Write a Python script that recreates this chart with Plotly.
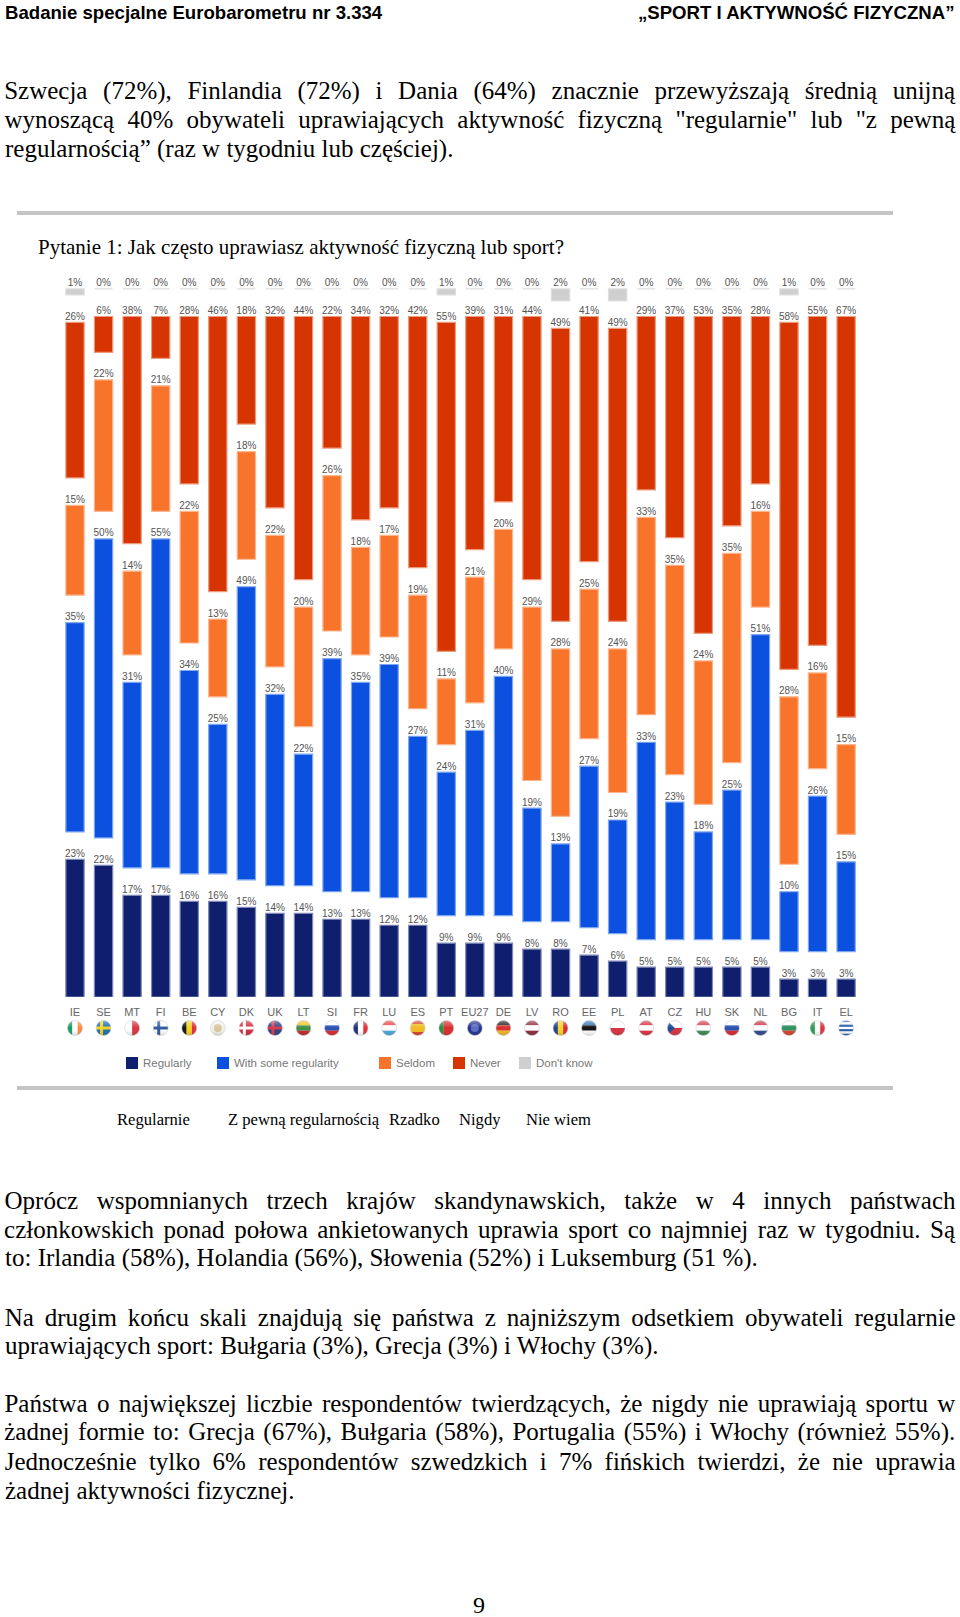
import base64
import json
import plotly.graph_objects as go

countries = ["IE","SE","MT","FI","BE","CY","DK","UK","LT","SI","FR","LU","ES","PT","EU27","DE","LV","RO","EE","PL","AT","CZ","HU","SK","NL","BG","IT","EL"]
regularly = [23,22,17,17,16,16,15,14,14,13,13,12,12,9,9,9,8,8,7,6,5,5,5,5,5,3,3,3]
some_regularity = [35,50,31,55,34,25,49,32,22,39,35,39,27,24,31,40,19,13,27,19,33,23,18,25,51,10,26,15]
seldom = [15,22,14,21,22,13,18,22,20,26,18,17,19,11,21,20,29,28,25,24,33,35,24,35,16,28,16,15]
never = [26,6,38,7,28,46,18,32,44,22,34,32,42,55,39,31,44,49,41,49,29,37,53,35,28,58,55,67]
dont_know = [1,0,0,0,0,0,0,0,0,0,0,0,0,1,0,0,0,2,0,2,0,0,0,0,0,1,0,0]

series_names = ["Regularly", "With some regularity", "Seldom", "Never", "Don't know"]
series_values = [regularly, some_regularity, seldom, never, dont_know]
fill_colors = ["#0f1f6e", "#0b50de", "#f7742a", "#d63400", "#cfcfcf"]
edge_colors = ["#7f88b8", "#80a8f0", "#fbb58f", "#ec9a7c", "#dedede"]
legend_x = [126, 217, 379, 453, 519]

header_left = "Badanie specjalne Eurobarometru nr 3.334"
header_right = "„SPORT I AKTYWNOŚĆ FIZYCZNA”"
question = "Pytanie 1: Jak często uprawiasz aktywność fizyczną lub sport?"
polish_legend = [("Regularnie", 115), ("Z pewną regularnością", 226), ("Rzadko", 387), ("Nigdy", 457), ("Nie wiem", 524)]
justified_lines = [
    ("Szwecja (72%), Finlandia (72%) i Dania (64%) znacznie przewyższają średnią unijną", 91),
    ("wynoszącą 40% obywateli uprawiających aktywność fizyczną \"regularnie\" lub \"z pewną", 120),
    ("Oprócz wspomnianych trzech krajów skandynawskich, także w 4 innych państwach", 1200),
    ("członkowskich ponad połowa ankietowanych uprawia sport co najmniej raz w tygodniu. Są", 1229),
    ("Na drugim końcu skali znajdują się państwa z najniższym odsetkiem obywateli regularnie", 1317),
    ("Państwa o największej liczbie respondentów twierdzących, że nigdy nie uprawiają sportu w", 1403),
    ("żadnej formie to: Grecja (67%), Bułgaria (58%), Portugalia (55%) i Włochy (również 55%).", 1432),
    ("Jednocześnie tylko 6% respondentów szwedzkich i 7% fińskich twierdzi, że nie uprawia", 1461),
]
plain_lines = [
    ("regularnością” (raz w tygodniu lub częściej).", 149),
    ("to: Irlandia (58%), Holandia (56%), Słowenia (52%) i Luksemburg (51 %).", 1258),
    ("uprawiających sport: Bułgaria (3%), Grecja (3%) i Włochy (3%).", 1346),
    ("żadnej aktywności fizycznej.", 1490),
]
page_number = "9"

# stripe colours per flag: (direction, colours, overlay)
flags = {
    "IE": ("v", ["#169b62", "#ffffff", "#ff883e"], None), "SE": ("h", ["#1a6fb5"], ("cross", "#f6d21f")),
    "MT": ("v", ["#ffffff", "#d8343f"], None), "FI": ("h", ["#ffffff"], ("cross", "#2f5a9e")),
    "BE": ("v", ["#111111", "#f5d320", "#e0303a"], None), "CY": ("h", ["#f1f1ec"], ("dot", "#d9c6a0")),
    "DK": ("h", ["#cf2a3c"], ("cross", "#ffffff")), "UK": ("h", ["#2b3f80"], ("cross", "#d8394a")),
    "LT": ("h", ["#f3c21e", "#3f8f45", "#c1272d"], None), "SI": ("h", ["#ffffff", "#2a4fb0", "#d9282f"], None),
    "FR": ("v", ["#1d2f80", "#ffffff", "#e0303a"], None), "LU": ("h", ["#e8444a", "#ffffff", "#4aa8dc"], None),
    "ES": ("h", ["#d8432a", "#f2bb22", "#f2bb22", "#d8432a"], None), "PT": ("v", ["#2d8a3f", "#d92c2c", "#d92c2c"], None),
    "EU27": ("h", ["#23308f"], ("dot", "#5a6ac0")), "DE": ("h", ["#222222", "#d9302c", "#f2b824"], None),
    "LV": ("h", ["#8e2c3c", "#ffffff", "#8e2c3c"], None), "RO": ("v", ["#1f3f8f", "#f5d320", "#d9282f"], None),
    "EE": ("h", ["#2f78bd", "#111111", "#ffffff"], None), "PL": ("h", ["#ffffff", "#d8303f"], None),
    "AT": ("h", ["#d8303f", "#ffffff", "#d8303f"], None), "CZ": ("h", ["#ffffff", "#d8303f"], ("wedge", "#1f4a94")),
    "HU": ("h", ["#d8384a", "#ffffff", "#3f8a50"], None), "SK": ("h", ["#ffffff", "#2a4fb0", "#d9282f"], None),
    "NL": ("h", ["#c5343f", "#ffffff", "#2a4a90"], None), "BG": ("h", ["#ffffff", "#2f9060", "#d8402c"], None),
    "IT": ("v", ["#2d9a50", "#ffffff", "#d8343f"], None),
    "EL": ("h", ["#1f5aa8", "#ffffff", "#1f5aa8", "#ffffff", "#1f5aa8", "#ffffff", "#1f5aa8"], None),
}

W, H = 960, 1617
PLOT_L, PLOT_R, PLOT_T, PLOT_B = 50, 870, 270, 997
PX_PER_PCT, PX_PER_CAT, FIRST_BAR_X = 5.98, 28.56, 75
GAP = 4.6  # blank space between the segments of a column, in percentage points


def px(x):
    return x / W


def py(y):
    return 1 - y / H


def flag_uri(code):
    direction, colours, overlay = flags[code]
    parts = []
    n = len(colours)
    for i, c in enumerate(colours):
        if direction == "h":
            parts.append(f'<rect x="0" y="{i*32/n}" width="32" height="{32/n+0.2}" fill="{c}"/>')
        else:
            parts.append(f'<rect x="{i*32/n}" y="0" width="{32/n+0.2}" height="32" fill="{c}"/>')
    if overlay:
        kind, c = overlay
        if kind == "cross":
            parts.append(f'<rect x="9" y="0" width="6" height="32" fill="{c}"/><rect x="0" y="13" width="32" height="6" fill="{c}"/>')
        elif kind == "dot":
            parts.append(f'<circle cx="16" cy="16" r="8" fill="{c}"/>')
        elif kind == "wedge":
            parts.append(f'<path d="M0 0L16 16L0 32Z" fill="{c}"/>')
    svg = ('<svg xmlns="http://www.w3.org/2000/svg" width="32" height="32" viewBox="0 0 32 32">'
           '<defs><clipPath id="c"><circle cx="16" cy="16" r="15"/></clipPath>'
           '<linearGradient id="g" x1="0" y1="0" x2="0" y2="1"><stop offset="0" stop-color="#fff" stop-opacity=".45"/>'
           '<stop offset=".5" stop-color="#fff" stop-opacity="0"/><stop offset="1" stop-color="#000" stop-opacity=".18"/></linearGradient>'
           '<filter id="b"><feGaussianBlur stdDeviation="1"/></filter></defs>'
           '<g clip-path="url(#c)" filter="url(#b)">' + "".join(parts) +
           '<rect width="32" height="32" fill="url(#g)"/></g>'
           '<circle cx="16" cy="16" r="15" fill="none" stroke="#d0d0d0" stroke-width="1.2"/></svg>')
    return "data:image/svg+xml;base64," + base64.b64encode(svg.encode()).decode()


fig = go.Figure()
x = list(range(len(countries)))
running = [0.0] * len(countries)
for k, (name, vals) in enumerate(zip(series_names, series_values)):
    fig.add_trace(go.Bar(
        x=x, y=vals, base=running, name=name, width=0.64,
        marker=dict(color=fill_colors[k], line=dict(color=edge_colors[k], width=1.2)),
        showlegend=False, hovertemplate="%{customdata}: %{y}%<extra>" + name + "</extra>", customdata=countries,
    ))
    tops = [b + v for b, v in zip(running, vals)]
    fig.add_trace(go.Scatter(
        x=x, y=tops, mode="text", text=[f"{v}%" for v in vals], textposition="top center",
        textfont=dict(family="Liberation Sans", size=10, color="#555555"),
        showlegend=False, hoverinfo="skip", cliponaxis=False,
    ))
    running = [t + GAP for t in tops]

annotations = []


def text(s, x_pos, y_pos, size, family, color="#000000", anchor="left", bold=False):
    annotations.append(dict(
        text=f"<b>{s}</b>" if bold else s, xref="paper", yref="paper", x=px(x_pos), y=py(y_pos),
        xanchor=anchor, yanchor="middle", showarrow=False,
        font=dict(family=family, size=size, color=color),
    ))


text(header_left, 3, 12, 18.6, "Liberation Sans", bold=True)
text(header_right, 956, 12, 18.6, "Liberation Sans", anchor="right", bold=True)
for s, y_pos in justified_lines:
    text(s, 480, y_pos, 25, "Liberation Serif", anchor="center")
for s, y_pos in plain_lines:
    text(s, 3, y_pos, 25, "Liberation Serif")
text(question, 36, 247, 21, "Liberation Serif")
for s, x_pos in polish_legend:
    text(s, x_pos, 1119, 16.6, "Liberation Serif")
text(page_number, 479, 1605, 24, "Liberation Serif", anchor="center")

shapes = []
for y0 in (213, 1088):
    shapes.append(dict(type="rect", xref="paper", yref="paper", x0=px(17), x1=px(893), y0=py(y0 - 2), y1=py(y0 + 2),
                       fillcolor="#c4c4c4", line_width=0))
for k, name in enumerate(series_names):
    shapes.append(dict(type="rect", xref="paper", yref="paper", x0=px(legend_x[k]), x1=px(legend_x[k] + 12),
                       y0=py(1057), y1=py(1069), fillcolor=fill_colors[k], line_width=0))
    text(name, legend_x[k] + 15, 1063, 11.5, "Liberation Sans", color="#777777")

images = [dict(source=flag_uri(c), xref="x", yref="paper", x=i, y=py(1028), sizex=16 / PX_PER_CAT, sizey=16 / H,
               xanchor="center", yanchor="middle", sizing="stretch", layer="above")
          for i, c in enumerate(countries)]

fig.update_layout(
    width=W, height=H, margin=dict(l=0, r=0, t=0, b=0), autosize=False,
    paper_bgcolor="#ffffff", plot_bgcolor="#ffffff", barmode="overlay", showlegend=False,
    annotations=annotations, shapes=shapes, images=images,
    xaxis=dict(domain=[px(PLOT_L), px(PLOT_R)],
               range=[(PLOT_L - FIRST_BAR_X) / PX_PER_CAT, (PLOT_R - FIRST_BAR_X) / PX_PER_CAT],
               tickmode="array", tickvals=x, ticktext=countries, ticks="outside", ticklen=5, tickcolor="rgba(0,0,0,0)",
               tickfont=dict(family="Liberation Sans", size=11, color="#666666"),
               showgrid=False, zeroline=False, showline=False),
    yaxis=dict(domain=[py(PLOT_B), py(PLOT_T)], range=[0, (PLOT_B - PLOT_T) / PX_PER_PCT],
               visible=False, showgrid=False, zeroline=False),
)

targets = {s: 951 for s, _ in justified_lines}
post = """
document.body.style.margin = '0';
var targets = %s;
document.querySelectorAll('.annotation-text').forEach(function (el) {
  var t = targets[el.textContent];
  if (!t) return;
  var spaces = el.textContent.split(' ').length - 1;
  el.style.wordSpacing = ((t - el.getComputedTextLength()) / spaces) + 'px';
});
""" % json.dumps(targets, ensure_ascii=False)

fig.write_html("out.html", post_script=post, config={"displayModeBar": False})
